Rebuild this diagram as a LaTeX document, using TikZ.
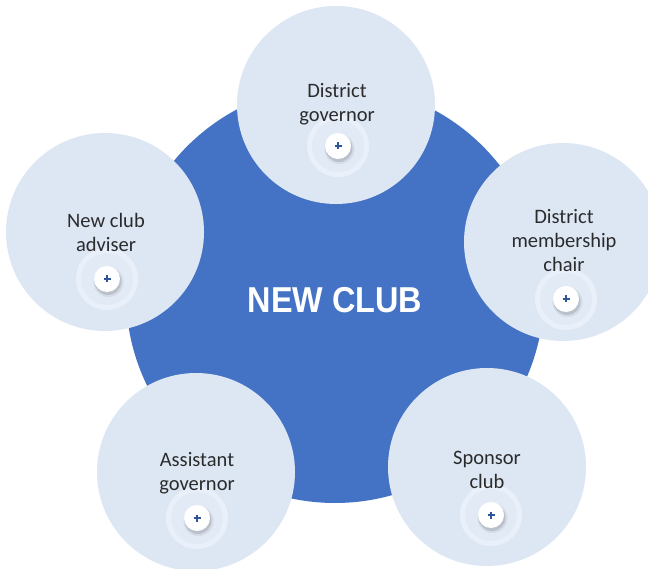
\documentclass[tikz,border=0pt]{standalone}
\usepackage{fontspec}
\setmainfont{Carlito}
\newfontfamily\titlefont[FakeStretch=0.9]{Liberation Sans}
\definecolor{hubblue}{HTML}{4472C4}
\definecolor{satfill}{HTML}{DDE7F4}
\definecolor{haloring}{HTML}{EAF0F9}
\definecolor{haloinner}{HTML}{E2EAF6}
\definecolor{labeltext}{HTML}{2B2B2B}
\definecolor{plusblue}{HTML}{2F5597}
\tikzset{
  hub/.style={circle, fill=hubblue, draw=none, minimum size=418pt, inner sep=0pt},
  satellite/.style={circle, fill=satfill, draw=none, minimum size=198pt, inner sep=0pt},
  satlabel/.style={align=center, text=labeltext, inner sep=0pt,
    font=\fontsize{20.5}{24}\selectfont},
  hubtitle/.style={text=white, inner sep=0pt, anchor=base,
    font=\titlefont\bfseries\fontsize{36}{40}\selectfont},
  halo/.pic={
    \fill[haloring] (0,0) circle (31pt);
    \fill[haloinner] (0,0) circle (26pt);
  },
  plusbtn/.pic={
    \fill[black, opacity=0.06] (1.5,3) circle (15pt);
    \fill[black, opacity=0.12] (1,2.5) circle (13.5pt);
    \fill[white] (0,0) circle (13pt);
    \draw[plusblue, line width=1.5pt] (-3.5,0) -- (3.5,0) (0,-3.5) -- (0,3.5);
  }
}
\begin{document}
\begin{tikzpicture}[x=1pt, y=-1pt]
  \useasboundingbox (0,0) rectangle (648,569);
  \clip (0,0) rectangle (648,569);
  \fill[white] (0,0) rectangle (648,569);

  % central club circle
  \node[hub] (hub) at (335,294) {};
  \node[hubtitle] (title) at (335,313) {NEW CLUB};

  % surrounding roles
  \node[satellite] (gov)   at (336,105) {};
  \node[satellite] (adv)   at (105,232) {};
  \node[satellite] (mem)   at (563,242) {};
  \node[satellite] (asst)  at (196,472) {};
  \node[satellite] (spons) at (487,467) {};

  % soft rings behind the buttons
  \pic at (338,146) {halo};
  \pic at (107,279) {halo};
  \pic at (566,299) {halo};
  \pic at (197,518) {halo};
  \pic at (491,515) {halo};

  \node[satlabel] (govtext)   at (337,104) {District\\governor};
  \node[satlabel] (advtext)   at (106,232) {New club\\adviser};
  \node[satlabel] (memtext)   at (564,241) {District\\membership\\chair};
  \node[satlabel] (assttext)  at (197,473) {Assistant\\governor};
  \node[satlabel] (sponstext) at (487,470) {Sponsor\\club};

  % expand buttons
  \pic at (338,146) {plusbtn};
  \pic at (107,279) {plusbtn};
  \pic at (566,299) {plusbtn};
  \pic at (197,518) {plusbtn};
  \pic at (491,515) {plusbtn};
\end{tikzpicture}
\end{document}
